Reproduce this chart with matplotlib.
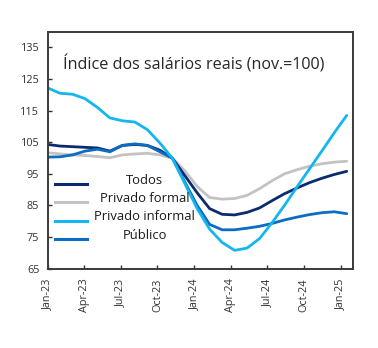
import numpy as np
import matplotlib
matplotlib.use("Agg")
import matplotlib.pyplot as plt

plt.rcParams['font.family'] = ['Open Sans', 'DejaVu Sans']

# Monthly index values, Jan-23 .. Jan-25 (Nov-23 = 100)
todos = [104.3, 103.8, 103.6, 103.4, 103.2, 102.2, 104.0, 104.3, 104.0, 102.5, 100.0,
         94.5, 89.0, 84.0, 82.2, 82.0, 82.8, 84.2, 86.5, 88.7, 90.5, 92.2, 93.6, 94.8, 95.8]
privado_formal = [101.7, 101.3, 101.0, 100.8, 100.5, 100.1, 101.0, 101.3, 101.5, 101.0, 100.0,
                  96.0, 91.0, 87.5, 87.0, 87.2, 88.2, 90.3, 92.8, 95.0, 96.3, 97.4, 98.2, 98.7, 99.0]
privado_informal = [122.2, 120.5, 120.2, 118.8, 116.0, 112.7, 111.8, 111.4, 109.0, 104.8, 100.0,
                    92.0, 84.0, 77.5, 73.3, 70.8, 71.5, 74.5, 79.5, 85.0, 90.8, 96.5, 102.2, 108.0, 113.5]
publico = [100.3, 100.4, 101.0, 102.2, 102.8, 102.0, 104.0, 104.5, 104.0, 102.0, 100.0,
           92.5, 85.0, 79.0, 77.3, 77.3, 77.8, 78.4, 79.3, 80.4, 81.3, 82.1, 82.7, 83.0, 82.4]

tick_labels = ["Jan-23", "Apr-23", "Jul-23", "Oct-23", "Jan-24",
               "Apr-24", "Jul-24", "Oct-24", "Jan-25"]

series = [
    ("Todos", todos, "#0b2a6f"),
    ("Privado formal", privado_formal, "#c3c3c3"),
    ("Privado informal", privado_informal, "#14b6ef"),
    ("Público", publico, "#0a6cc2"),
]

fig = plt.figure(figsize=(3.78, 3.48), dpi=100)
ax = fig.add_axes([0.126, 0.228, 0.809, 0.681])

# data points are spread a little wider than the month ticks in the original
x = np.linspace(0, 24.5, len(todos))

for name, vals, col in [series[1], series[0], series[3], series[2]]:
    ax.plot(x, vals, color=col, lw=2.0, solid_capstyle='round')

ax.set_xlim(0, 25.05)
ax.set_ylim(65, 140)
ax.set_yticks(np.arange(65, 136, 10))
ax.set_xticks(np.arange(0, 25, 3))
ax.set_xticklabels(tick_labels, rotation=90)
ax.tick_params(direction='in', length=3, width=1, labelsize=7.8, colors='#333333')
ax.tick_params(axis='x', pad=7)
ax.tick_params(axis='y', pad=6)

for s in ax.spines.values():
    s.set_color('#3a3a3a')
    s.set_linewidth(1.4)

ax.text(0.05, 0.86, "Índice dos salários reais (nov.=100)", transform=ax.transAxes,
        fontsize=11.6, color='#262626', va='center', ha='left')

# legend drawn by hand: handles on the left, labels centred
leg_y = [0.37, 0.292, 0.215, 0.137]
for (name, vals, col), yy in zip(series, leg_y):
    ax.plot([0.025, 0.13], [yy - 0.012, yy - 0.012], transform=ax.transAxes,
            color=col, lw=2.2)
    ax.text(0.318, yy + 0.004, name, transform=ax.transAxes, fontsize=9.4,
            ha='center', va='center', color='#1a1a1a')

fig.savefig("out.png", dpi=100)
